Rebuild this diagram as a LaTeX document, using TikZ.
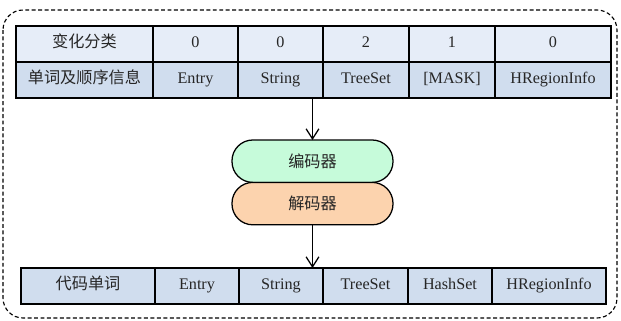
\documentclass[tikz,border=0pt]{standalone}
\usepackage{fontspec}
\setmainfont{Liberation Serif}
\newfontfamily\cjk{Noto Sans CJK SC}
\usepackage{xcolor}
\usetikzlibrary{arrows.meta, positioning}
\definecolor{headblue}{RGB}{230, 237, 248}
\definecolor{cellblue}{RGB}{208, 221, 238}
\definecolor{encgreen}{RGB}{198, 251, 218}
\definecolor{decorange}{RGB}{252, 211, 174}

\begin{document}
\begin{tikzpicture}[
    node distance=1.075cm,
    cell/.style={draw=black, line width=0.9pt, outer sep=0pt, inner sep=0pt,
                 minimum height=0.9cm, text height=1.6ex, text depth=0.45ex,
                 font=\fontsize{11.5}{13}\selectfont, text=black!85},
    head/.style={cell, fill=headblue},
    word/.style={cell, fill=cellblue},
    pill/.style={draw=black, line width=0.9pt, rounded corners=0.52cm,
                 outer sep=0pt, minimum width=4.025cm, minimum height=1.06cm,
                 font=\cjk\fontsize{11.5}{13}\selectfont, text=black!85},
    arrow/.style={-{Straight Barb[length=2.5mm, width=3.2mm]}, line width=0.9pt, black}
]
    \useasboundingbox (0,0) rectangle (15.525,-8.025);
    \draw[dash pattern=on 2.8pt off 1.8pt, line width=0.8pt, black, rounded corners=0.5cm]
        (0.075,-0.25) rectangle (15.425,-7.95);

    % input table
    \node[head, minimum width=3.425cm, anchor=north west] (h1) at (0.4,-0.65) {\cjk 变化分类};
    \node[head, minimum width=2.125cm, right=0pt of h1] (h2) {0};
    \node[head, minimum width=2.125cm, right=0pt of h2] (h3) {0};
    \node[head, minimum width=2.15cm, right=0pt of h3] (h4) {2};
    \node[head, minimum width=2.15cm, right=0pt of h4] (h5) {1};
    \node[head, minimum width=2.9cm, right=0pt of h5] (h6) {0};
    \node[word, minimum width=3.425cm, below=0pt of h1] (w1) {\cjk 单词及顺序信息};
    \node[word, minimum width=2.125cm, below=0pt of h2] (w2) {Entry};
    \node[word, minimum width=2.125cm, below=0pt of h3] (w3) {String};
    \node[word, minimum width=2.15cm, below=0pt of h4] (w4) {TreeSet};
    \node[word, minimum width=2.15cm, below=0pt of h5] (w5) {[MASK]};
    \node[word, minimum width=2.9cm, below=0pt of h6] (w6) {HRegionInfo};

    % model
    \node[pill, fill=encgreen, anchor=north] (enc) at (7.8125,-3.5) {编码器};
    \node[pill, fill=decorange, below=0pt of enc] (dec) {解码器};

    % output table
    \node[word, minimum width=3.35cm, anchor=north west] (o1) at (0.525,-6.7) {\cjk 代码单词};
    \node[word, minimum width=2.1cm, right=0pt of o1] (o2) {Entry};
    \node[word, minimum width=2.1cm, right=0pt of o2] (o3) {String};
    \node[word, minimum width=2.125cm, right=0pt of o3] (o4) {TreeSet};
    \node[word, minimum width=2.1cm, right=0pt of o4] (o5) {HashSet};
    \node[word, minimum width=2.85cm, right=0pt of o5] (o6) {HRegionInfo};

    \draw[arrow] (enc.north |- w3.south) -- (enc.north);
    \draw[arrow] (dec.south) -- (dec.south |- o3.north);
\end{tikzpicture}
\end{document}
